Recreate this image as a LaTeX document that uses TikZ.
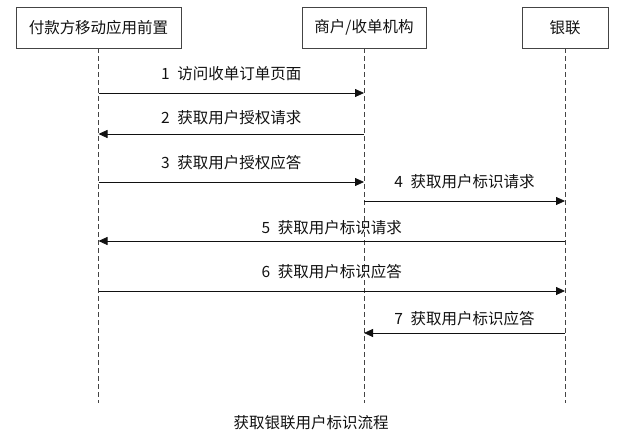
\documentclass[tikz,border=0pt]{standalone}
\usepackage{fontspec}
\setmainfont{Noto Sans CJK SC}
\usetikzlibrary{arrows.meta,positioning,calc}
\definecolor{ink}{HTML}{111111}
\definecolor{frame}{HTML}{444444}
\tikzset{
  party/.style={draw=frame, line width=0.9pt, minimum height=41pt, inner sep=0pt,
    text=ink, font=\fontsize{15.5}{18}\selectfont},
  life/.style={draw=frame, line width=0.8pt, dash pattern=on 5pt off 3pt},
  msg/.style={-{Triangle[length=9pt,width=8pt]}, draw=ink, line width=0.8pt},
  lbl/.style={text=ink, inner sep=0pt, font=\fontsize{15.5}{18}\selectfont},
}

\begin{document}
\begin{tikzpicture}[x=1pt, y=-1pt]
    \useasboundingbox (0,0) rectangle (622,435);
    \node[party, minimum width=165pt] (app) at (98.5,27.5) {付款方移动应用前置};
    \node[party, minimum width=124pt] (mer) at (364,27.5) {商户/收单机构};
    \node[party, minimum width=86pt] (cup) at (565,27.5) {银联};
    \coordinate (bottom) at (0,403);
    \foreach \x in {app,mer,cup} \draw[life] (\x.south) -- (\x |- bottom);
    \foreach \i/\y/\a/\b/\d/\t in {
      1/93/app/mer/19/{1\enspace 访问收单订单页面},
      2/134/mer/app/16/{2\enspace 获取用户授权请求},
      3/182/app/mer/19/{3\enspace 获取用户授权应答},
      4/201/mer/cup/19/{4\enspace 获取用户标识请求},
      5/241/cup/app/13/{5\enspace 获取用户标识请求},
      6/291/app/cup/19/{6\enspace 获取用户标识应答},
      7/333/cup/mer/14/{7\enspace 获取用户标识应答}} {
      \coordinate (f\i) at (\a |- 0,\y);
      \coordinate (t\i) at (\b |- 0,\y);
      \draw[msg] (f\i) -- (t\i) node[lbl, midway, yshift=\d pt] (l\i) {\t};
    }
    \node[lbl] (cap) at (311,423) {获取银联用户标识流程};
\end{tikzpicture}
\end{document}
